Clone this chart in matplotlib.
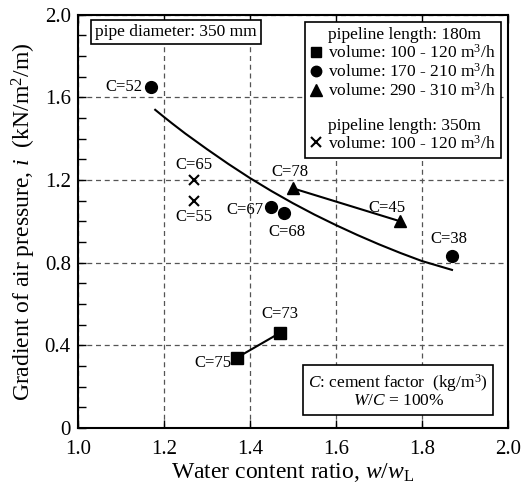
import numpy as np
import matplotlib
matplotlib.use("Agg")
import matplotlib.pyplot as plt
from matplotlib.lines import Line2D
from matplotlib.ticker import MultipleLocator, FuncFormatter

plt.rcParams['font.family'] = 'Liberation Serif'
plt.rcParams['mathtext.fontset'] = 'custom'
plt.rcParams['mathtext.rm'] = 'Liberation Serif'
plt.rcParams['mathtext.it'] = 'Liberation Serif:italic'

# data
sq_x = [1.37, 1.47]
sq_y = [0.34, 0.46]
sq_lab = ["C=75", "C=73"]

ci_x = [1.17, 1.45, 1.48, 1.87]
ci_y = [1.65, 1.07, 1.04, 0.83]
ci_lab = ["C=52", "C=67", "C=68", "C=38"]

tr_x = [1.50, 1.75]
tr_y = [1.16, 1.00]
tr_lab = ["C=78", "C=45"]

cr_x = [1.27, 1.27]
cr_y = [1.20, 1.10]
cr_lab = ["C=65", "C=55"]

fit_x = [1.18, 1.20, 1.22, 1.25, 1.28, 1.30, 1.35, 1.40, 1.45, 1.50, 1.55,
         1.60, 1.65, 1.70, 1.75, 1.80, 1.87]
fit_y = [1.54, 1.506, 1.473, 1.425, 1.38, 1.35, 1.278, 1.21, 1.147, 1.088, 1.033,
         0.982, 0.934, 0.889, 0.847, 0.808, 0.765]

fig = plt.figure(figsize=(5.22, 4.93), dpi=100)
ax = fig.add_axes([0.149, 0.132, 0.824, 0.838])

ax.plot(fit_x, fit_y, color='black', lw=1.5)
ax.plot(sq_x, sq_y, color='black', lw=1.5, marker='s', ms=8)
ax.plot(tr_x, tr_y, color='black', lw=1.5, marker='^', ms=9)
ax.plot(ci_x, ci_y, color='black', ls='none', marker='o', ms=8.5)
ax.plot(cr_x, cr_y, color='black', ls='none', marker='x', ms=7, mew=1.5)

fs = 12
# point labels
ax.annotate(sq_lab[0], (sq_x[0], sq_y[0]), xytext=(-4, -4), textcoords='offset points', ha='right', va='center', fontsize=fs)
ax.annotate(sq_lab[1], (sq_x[1], sq_y[1]), xytext=(0, 8), textcoords='offset points', ha='center', va='bottom', fontsize=fs)
ax.annotate(ci_lab[0], (ci_x[0], ci_y[0]), xytext=(-6, 0), textcoords='offset points', ha='right', va='center', fontsize=fs)
ax.annotate(ci_lab[1], (ci_x[1], ci_y[1]), xytext=(-6, -2), textcoords='offset points', ha='right', va='center', fontsize=fs)
ax.annotate(ci_lab[2], (ci_x[2], ci_y[2]), xytext=(2, -8), textcoords='offset points', ha='center', va='top', fontsize=fs)
ax.annotate(ci_lab[3], (ci_x[3], ci_y[3]), xytext=(-2, 7), textcoords='offset points', ha='center', va='bottom', fontsize=fs)
ax.annotate(tr_lab[0], (tr_x[0], tr_y[0]), xytext=(-2, 6), textcoords='offset points', ha='center', va='bottom', fontsize=fs)
ax.annotate(tr_lab[1], (tr_x[1], tr_y[1]), xytext=(-10, 4), textcoords='offset points', ha='center', va='bottom', fontsize=fs)
ax.annotate(cr_lab[0], (cr_x[0], cr_y[0]), xytext=(0, 5), textcoords='offset points', ha='center', va='bottom', fontsize=fs)
ax.annotate(cr_lab[1], (cr_x[1], cr_y[1]), xytext=(0, -6), textcoords='offset points', ha='center', va='top', fontsize=fs)

ax.set_xlim(1.0, 2.0)
ax.set_ylim(0, 2.0)
ax.xaxis.set_major_locator(MultipleLocator(0.2))
ax.yaxis.set_major_locator(MultipleLocator(0.4))
ax.yaxis.set_minor_locator(MultipleLocator(0.1))
ax.yaxis.set_major_formatter(FuncFormatter(lambda v, p: "0" if abs(v) < 1e-9 else f"{v:.1f}"))
ax.tick_params(which='both', direction='in', top=True, right=False, labelsize=15)
ax.tick_params(axis='x', pad=9)
ax.tick_params(axis='y', pad=5)
ax.tick_params(which='major', length=6, width=1)
ax.tick_params(which='minor', length=6, width=1)
ax.grid(True, which='major', ls=(0, (4, 3)), color='#555555', lw=0.9)
for s in ax.spines.values():
    s.set_linewidth(1.5)

ax.set_xlabel(r"Water content ratio, $w/w_\mathrm{L}$", fontsize=17, labelpad=1)
ax.set_ylabel(r"Gradient of air pressure, $i$  (kN/m$^2$/m)", fontsize=17, labelpad=5)

ax.text(0.04, 0.958, "pipe diameter: 350 mm", transform=ax.transAxes, fontsize=12.5,
        ha='left', va='center',
        bbox=dict(boxstyle='square,pad=0.25', fc='white', ec='black', lw=1.2))

ax.text(0.745, 0.09, r"$C$: cement factor  (kg/m$^3$)" + "\n" + r"$W/C$ = 100%", transform=ax.transAxes,
        fontsize=12.5, ha='center', va='center', linespacing=0.95,
        bbox=dict(boxstyle='square,pad=0.3', fc='white', ec='black', lw=1.2))

blank = Line2D([], [], ls='none', marker=None)
handles = [blank,
           Line2D([], [], ls='none', marker='s', color='black', ms=7),
           Line2D([], [], ls='none', marker='o', color='black', ms=7.5),
           Line2D([], [], ls='none', marker='^', color='black', ms=8),
           blank, blank,
           Line2D([], [], ls='none', marker='x', color='black', ms=7, mew=1.5)]
labels = ["pipeline length: 180m",
          "volume: 100 - 120 m$^3$/h",
          "volume: 170 - 210 m$^3$/h",
          "volume: 290 - 310 m$^3$/h",
          " ",
          "pipeline length: 350m",
          "volume: 100 - 120 m$^3$/h"]
leg = ax.legend(handles, labels, loc='upper right', bbox_to_anchor=(0.995, 0.995), fontsize=12.5,
                frameon=True, fancybox=False, edgecolor='black', framealpha=1,
                handlelength=0.6, handletextpad=0.4, labelspacing=0.05, borderpad=0.3,
                borderaxespad=0.3)
leg.get_frame().set_linewidth(1.2)

fig.savefig("out.png", dpi=100)
